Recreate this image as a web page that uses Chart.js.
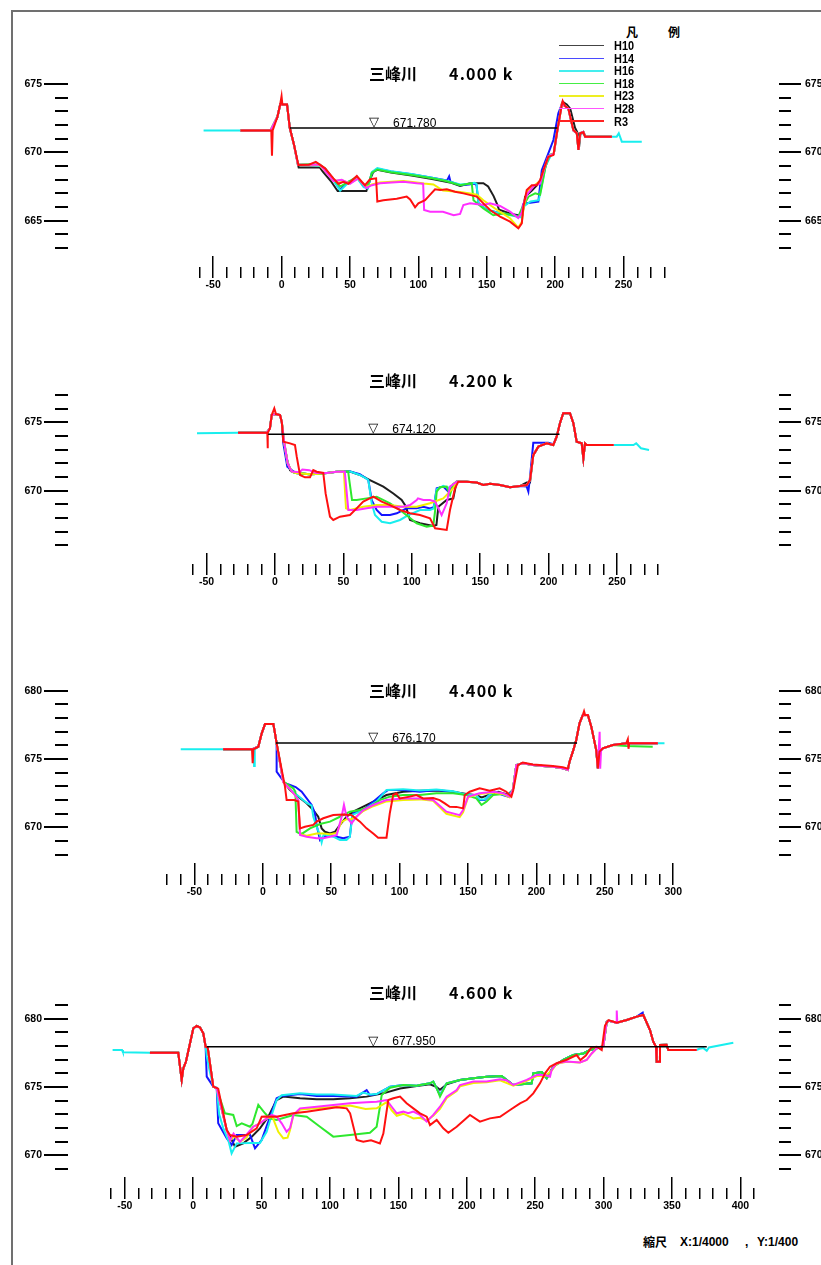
<!DOCTYPE html>
<html lang="ja">
<head>
<meta charset="utf-8">
<title>三峰川 横断図</title>
<script src="https://cdn.jsdelivr.net/npm/chart.js@4.4.1/dist/chart.umd.min.js"></script>
<style>
  html, body { margin:0; padding:0; background:#fff; }
  body { position:relative; width:821px; height:1265px; overflow:hidden; }
  #frame { position:absolute; left:11px; top:10px; width:830px; height:1280px; border-top:2px solid #707070; border-left:2px solid #707070; }
  canvas { position:absolute; left:0; }
  .title { position:absolute; left:369px; font:bold 16px "Noto Sans CJK JP", sans-serif; line-height:16px; white-space:pre; color:#000; }
  .title span { letter-spacing:1.2px; }
  .lgh { position:absolute; top:26px; font:bold 12px "Noto Sans CJK JP", sans-serif; line-height:12px; }
  .lgline { position:absolute; left:559px; width:45px; height:1.5px; }
  .lgtxt { position:absolute; left:614px; font:bold 13px "Liberation Sans", sans-serif; line-height:13px; color:#000; transform:scaleX(0.84); transform-origin:0 50%; }
  .note { position:absolute; top:1235px; font:bold 12px "Liberation Sans", sans-serif; line-height:14px; white-space:pre; }
  .note.cjk { font-family:"Noto Sans CJK JP", sans-serif; }
</style>
</head>
<body>
<div id="frame"></div>
<canvas id="c1" width="821" height="241" style="top:56px"></canvas>
<canvas id="c2" width="821" height="223" style="top:371px"></canvas>
<canvas id="c3" width="821" height="238" style="top:666px"></canvas>
<canvas id="c4" width="821" height="237" style="top:981px"></canvas>
<div class="title" style="top:65px">三峰川　　<span>4.000 k</span></div>
<div class="title" style="top:372px">三峰川　　<span>4.200 k</span></div>
<div class="title" style="top:682px">三峰川　　<span>4.400 k</span></div>
<div class="title" style="top:984px">三峰川　　<span>4.600 k</span></div>
<div class="lgh" style="left:626px">凡</div>
<div class="lgh" style="left:668px">例</div>
<div id="legend"></div>
<div class="note cjk" style="left:643px">縮尺</div>
<div class="note" style="left:680px">X:1/4000</div>
<div class="note" style="left:745px">,</div>
<div class="note" style="left:757px">Y:1/400</div>
<script>
const names = ['H10', 'H14', 'H16', 'H18', 'H23', 'H28', 'R3'];
const colors = ['#1e1e1e', '#1414ff', '#19eeee', '#2ee82e', '#f0f000', '#ff2eff', '#ff1010'];
const legendColors = ['#444444', '#4a4aff', '#44eeee', '#44ee44', '#eeee22', '#ff55ff', '#ff2222'];

// water level (m) and its extent / marker position along the section (m)
const levels = [671.78, 674.12, 676.17, 677.95];
const levelFrom = [6.2, -5, 9.6, 10];
const levelTo = [201.6, 208, 229.7, 375.4];
const levelMark = [67.6, 71.9, 80.7, 131.6];

// ---- 4.000 k ----
const L4000 = [[-30,671.6],[-8,671.6],[-3,672.6],[-1,673.5],[4,673.5],[6,671.8],[9,670.6],[12,669.1]];
const R4000 = [[199,669.9],[201.6,671.6],[204.8,673.5],[207.2,673.4],[209.6,673.2],[213.3,671.6],[215.8,671.4],[217,670.2],[218.2,671.4],[220.6,671.5],[221.9,671.15],[241.4,671.15]];
const h10_4000 = [...L4000, [12.5,668.9],[28,668.9],[30,668.6],[36,667.9],[41,667.17],[62,667.17],[64.7,668.0],[67,668.58],[70,668.72],[80,668.52],[95,668.3],[110,668.05],[123,667.8],[130.5,667.55],[137.8,667.74],[147.5,667.74],[151,667.5],[155,666.8],[157.3,666.27],[159,665.8],[168,665.5],[173,665.4],[176,665.4],[178,666.76],[183,667.2],[188,667.74],[190,667.9],[193,669.0],[196,669.8],[199,669.9],[203,672.8],[205.5,673.7],[208.5,673.5],[211,673.2],[214.5,671.8],[216.5,671.4],[217.5,670.4],[218.5,671.4],[221,671.4],[222,671.15],[241.4,671.15]];
const h14_4000 = [...L4000, [20,669.1],[28,669.05],[31.8,668.8],[38,668.0],[42.8,667.25],[47.7,667.8],[52,667.95],[55,668.2],[60,667.5],[63,667.4],[66,668.5],[70,668.8],[80,668.6],[95,668.4],[110,668.15],[121,667.95],[122.5,668.25],[123.5,667.85],[130.5,667.6],[137,667.65],[141,667.72],[142.5,667.6],[143.9,666.3],[150,665.8],[162,665.5],[170,665.4],[175,665.3],[176.5,666.2],[179.2,666.27],[187.7,666.4],[190.2,668.7],[195,669.93],[198.7,670.9],[202.3,672.86], ...R4000.slice(2)];
const h16_4000 = [[-57,671.6], ...L4000, [20,669.1],[28,669.0],[32,668.7],[38,667.95],[42.8,667.2],[48,667.7],[52,667.9],[55,668.15],[60,667.45],[63,667.35],[66,668.55],[70,668.85],[80,668.62],[95,668.42],[110,668.15],[120,667.95],[130.5,667.65],[137,667.7],[141,667.78],[142.5,667.7],[143.9,666.27],[150,665.78],[162,665.5],[170,665.35],[175,665.25],[176.5,666.0],[182,666.4],[188,666.5],[190,667.5],[193,669.0],[197,669.8], ...R4000, [245,671.15],[246.5,671.4],[248.7,670.78],[263.3,670.78]];
const h18_4000 = [...L4000, [20,669.15],[28,669.1],[32,668.8],[38,668.0],[43,667.5],[48,667.8],[55,668.2],[60,667.6],[63,667.5],[66,668.5],[70,668.75],[80,668.55],[95,668.35],[110,668.1],[120,667.9],[130.5,667.6],[139,667.74],[140.3,666.5],[147.5,665.9],[154.8,665.4],[162.2,665.55],[169.4,665.4],[173,665.3],[175.6,665.9],[180.5,666.76],[185.4,667.0],[189,666.9],[190.2,667.5],[193,669.0],[196,669.8], ...R4000];
const h23_4000 = [...L4000, [20,669.1],[28,669.05],[33,668.5],[38,667.9],[44,667.95],[50,667.75],[56,668.1],[62,667.45],[66,667.65],[72,667.8],[89,667.9],[98.8,667.8],[104,667.72],[111,667.65],[118,667.2],[130.5,667.1],[137.8,667.0],[142.7,666.9],[147.5,666.5],[157.3,665.8],[167,665.18],[173,664.5],[175.6,664.9],[177,666.0],[180,667.2],[185,667.6],[189,667.9],[192,668.8],[195,669.7], ...R4000];
const h28_4000 = [...L4000, [20,669.1],[28,669.1],[33,668.5],[38,667.9],[44,668.0],[50,667.7],[56,668.1],[62,667.4],[66,667.6],[72,667.74],[89,667.85],[98.8,667.74],[103.5,667.7],[104.2,665.78],[108.6,665.66],[118,665.66],[125.8,665.4],[130.5,665.5],[132.9,666.15],[137.8,666.27],[147.5,666.15],[152.4,666.27],[159.7,666.08],[167,665.66],[173,665.2],[175.6,665.6],[177,666.3],[180,667.0],[185,667.6],[189,667.7],[192,668.8],[195,669.7], ...R4000];
const r3_4000 = [[-30,671.6],[-7.5,671.6],[-7,669.75],[-6.5,671.6],[-3,672.6],[-1,673.5],[0,674.1],[0.6,673.5],[4,673.5],[6,671.8],[9,670.6],[12.3,669.08],[20,669.1],[25,669.3],[28,669.1],[31.8,668.83],[37.9,668.1],[41.5,667.7],[45.2,667.85],[48.8,667.7],[55,668.27],[58.6,667.85],[61,667.6],[64.7,668.03],[69.1,668.1],[70,666.4],[74.4,666.5],[84.2,666.6],[91.5,666.76],[94,666.56],[97.6,665.98],[100,666.27],[104.9,666.5],[107.3,666.76],[112.2,667.3],[115.9,667.25],[120.8,667.3],[126.8,667.12],[132.9,667.0],[142.7,666.76],[147.5,666.27],[152.4,665.78],[159.7,665.3],[167,664.93],[173.1,664.45],[175.6,664.8],[176.8,666.03],[179.2,667.25],[182.9,667.6],[186.5,667.6],[189,667.98],[191.4,668.7],[195,669.68],[198.7,669.8],[201.6,671.63],[204.8,673.46],[205.5,673.75],[207.2,673.39],[209.6,673.22],[213.3,671.63],[215.8,671.4],[217,670.17],[218.2,671.4],[220.6,671.47],[221.9,671.15],[241.4,671.15]];

// ---- 4.200 k ----
const L4200 = [[-27,674.24],[-6,674.24],[-3.7,674.56],[-2.4,675.53],[0.7,675.6],[3.7,675.53],[5,675.0]];
const P4200 = [[12.2,671.4],[15,671.3],[20,671.25],[25,671.2],[30,671.22],[38,671.3],[45,671.38],[50,671.4]];
const R4200 = [[134,670.66],[140.1,670.66],[147.4,670.6],[152.3,670.42],[157.2,670.5],[164.5,670.42],[171.8,670.25],[179,670.34],[184,670.42],[186.4,670.78],[188.8,672.6],[192.5,673.22],[198.6,673.46],[203.4,673.34],[205.9,673.95],[208.3,674.93],[210.7,675.66],[215.6,675.66],[218.1,674.93],[220.5,673.58],[224.2,673.46],[225.4,672.37],[226.6,673.46],[227.8,673.34],[247.5,673.34]];
const h10_4200 = [...L4200, [6.5,673.5],[9,672.2],[11,671.5], ...P4200, [54.8,671.4],[62.1,671.15],[69.4,670.78],[79.2,670.3],[86.5,669.8],[92.6,669.32],[95.8,668.83],[97.5,668.22],[98.7,667.86],[106,667.62],[115.7,667.42],[118,667.5],[119.4,668.83],[125.5,669.32],[130.3,669.44],[132.8,670.66], ...R4200.slice(0,8), [182,670.5],[184,670.6],[186.4,670.6], ...R4200.slice(10)];
const h14_4200 = [...L4200, [6.1,673.46],[9,671.75],[12.2,671.5], ...P4200.slice(1), [55,671.4],[62,671.2],[66,670.95],[68.2,670.78],[70.7,669.3],[74.3,668.59],[78,668.22],[84.1,668.22],[89,668.35],[96.3,668.71],[103.6,668.71],[108.4,668.83],[113.3,668.71],[116,668.8],[118.2,670.18],[123,670.3],[126.7,669.93],[130.3,670.3],[132.8,670.66], ...R4200.slice(0,8), [184,670.3],[185.2,669.93],[186.4,671],[188.8,673.5],[199.8,673.5],[203.4,673.4], ...R4200.slice(14)];
const h16_4200 = [[-57,674.2], ...L4200, [6.8,673.5],[9.3,672.0], ...P4200, [55,671.4],[62,671.15],[66.5,670.9],[68.2,670.78],[70.7,669.08],[73.1,668.22],[78,667.73],[84.1,667.62],[91.4,667.86],[97.5,668.22],[106,668.59],[113.3,668.59],[116,668.7],[118.2,670.1],[123,670.35],[126.7,670.2],[130.3,670.4],[132.8,670.66], ...R4200, [262,673.34],[264,673.46],[267.5,673.1],[273.4,672.98]];
const h18_4200 = [...L4200, [6.8,673.5],[9.3,672.0], ...P4200, [53.5,671.4],[54.3,670.78],[56.3,669.32],[59.7,669.32],[67,669.44],[74.3,669.56],[84.1,669.08],[91.4,668.59],[97.5,668.1],[103.6,667.62],[110.9,667.37],[115.7,667.45],[117,668.5],[118.2,669.93],[120.6,670.25],[125.5,670.3],[127.9,669.69],[130.3,670.5],[132.8,670.66], ...R4200];
const h23_4200 = [...L4200, [6.8,673.5],[9.3,672.0], ...P4200, [50.4,671.35],[51.9,668.71],[54.8,668.59],[64.5,668.83],[74.3,668.95],[84.1,668.95],[93.8,668.83],[103.6,668.83],[113.3,669.08],[123,669.44],[130.3,670.18],[132.8,670.66], ...R4200];
const h28_4200 = [...L4200, [6.8,673.5],[9.3,672.0],[12.2,671.4],[18,671.35],[20,671.55],[25,671.5],[30,671.3],[38,671.3],[45,671.38],[51,671.4],[53.6,668.59],[59.7,668.59],[67,668.71],[74.3,668.83],[84.1,668.83],[93.8,668.83],[98.7,668.95],[103.6,669.32],[104.5,669.44],[108.4,669.32],[113.3,669.32],[117,669.2],[121.8,668.22],[125.5,669.08],[127.9,670.3],[132.8,670.66], ...R4200];
const r3_4200 = [[-27,674.24],[-5.6,674.24],[-5.4,673.1],[-5.2,674.24],[-3.7,674.56],[-2.4,675.53],[-0.5,676.02],[0.7,675.6],[3.7,675.53],[5,675.0],[6.1,673.58],[11,673.46],[14.6,673.34],[15.9,672.49],[18.3,671.15],[21.9,670.98],[25.6,670.98],[28,671.5],[30.5,671.39],[35.3,671.3],[37,669.8],[40.2,668.1],[42.6,667.86],[47.5,668.1],[54.8,668.22],[59.7,668.71],[64.5,669.2],[71.9,669.56],[78,669.2],[84.1,668.95],[91.4,668.59],[98.7,668.35],[106,668.22],[113.3,667.98],[117,667.25],[125.5,667.13],[127.9,668.59],[131.6,670.18], ...R4200];

// ---- 4.400 k ----
const L4400 = [[-29,675.71],[-8.1,675.71],[-3.3,675.9],[-0.8,676.88],[1.6,677.56],[7.7,677.56],[8.9,676.88],[10.1,676.15]];
const R4400 = [[182.8,672.74],[185.3,674.56],[190.1,674.69],[197.4,674.56],[204.7,674.49],[212,674.44],[219.3,674.32],[223,674.2],[224.2,674.81],[226.6,675.54],[229.1,676.39],[231.5,677.61],[233.9,678.22],[237.6,678.22],[240.1,677.37],[243.7,675.66],[244.9,674.32],[246.1,675.54],[248.5,675.79],[255.8,676.03],[265.6,676.15],[288.7,676.15]];
const h10_4400 = [...L4400, [15,673.35],[19.9,672.74],[25.9,672.25],[32,671.76],[36.9,671.27],[40.5,670.78],[43,669.93],[45.4,669.68],[49.1,669.56],[52.7,669.68],[56.4,670.18],[61.2,670.78],[66.1,671.15],[78.2,671.76],[90.4,672.37],[102.6,672.61],[114.7,672.68],[126.9,672.7],[139.1,672.61],[148.8,672.45],[156.1,672.35],[160,672.2],[165.8,672.4],[172,672.6],[179.2,672.4], ...R4400];
const h14_4400 = [...L4400, [10.1,674.08],[16.2,673.23],[19.9,673.1],[24,672.95],[28.4,672.61],[35.7,671.64],[38.1,671.03],[39.3,670.18],[41.8,669.08],[44.2,669.32],[49.1,669.44],[53.9,669.32],[58.8,669.2],[63.6,669.32],[64.9,670.54],[66.1,671.03],[73.4,671.27],[80.7,671.88],[88,672.49],[91.6,672.74],[102.6,672.74],[114.7,672.61],[126.9,672.74],[139.1,672.61],[148.8,672.37],[156.1,672.37],[158.5,672.0],[162.2,672.0],[165.8,672.37],[169.5,672.61],[175.5,672.37],[179.2,672.25], ...R4400];
const h16_4400 = [[-60,675.71],[-6.9,675.71],[-6.4,674.5],[-5.9,675.71], ...L4400.slice(2), [15,673.35],[19.9,672.8],[25.9,672.3],[32,671.8],[35.7,671.6],[36.9,670.78],[39.3,670.05],[41.8,669.44],[43,668.9],[44.5,669.5],[46.6,669.44],[51.5,669.32],[56.4,669.08],[61.2,669.08],[63.6,669.32],[65.6,670.91],[73.4,671.27],[83.1,671.88],[90.4,672.74],[102.6,672.8],[114.7,672.7],[126.9,672.78],[139.1,672.65],[148.8,672.4],[156.1,672.35],[158.5,672.05],[162.2,672.05],[165.8,672.4],[169.5,672.6],[175.5,672.4],[179.2,672.3], ...R4400, [293.6,676.15]];
const h18_4400 = [...L4400, [15,673.35],[22.3,672.86],[23.8,672.6],[24.7,669.68],[27,669.56],[29,669.56],[34.5,669.93],[41.8,670.25],[49.1,670.42],[56.4,670.78],[63.6,671.15],[71,671.27],[78.2,671.51],[85.5,672.0],[92.8,672.25],[102.6,672.37],[114.7,672.37],[126.9,672.49],[139.1,672.49],[148.8,672.37],[156.1,672.12],[159.8,671.64],[163.4,671.88],[168.3,672.37],[175.5,672.45],[180.4,672.3], ...R4400.slice(0,20), [265.6,675.95],[285,675.9]];
const h23_4400 = [...L4400, [15,673.3],[19.9,672.8],[24,672.3],[25.9,672.0],[27.2,669.5],[32,669.4],[39.3,669.56],[44.2,669.56],[49.1,669.5],[54,669.6],[57.6,670.4],[61.2,670.6],[64.9,670.6],[68.5,670.8],[73.4,671.2],[80.7,671.55],[90.4,671.9],[102.6,672.0],[114.7,672.05],[124.5,671.95],[134.2,671.0],[143.9,670.75],[146.4,671.1],[150,672.2],[158.5,672.45],[168.3,672.55],[175.5,672.45],[180.4,672.2], ...R4400];
const h28_4400 = [...L4400, [15,673.3],[19.9,672.8],[24,672.3],[25.9,672.0],[27.2,669.44],[32,669.32],[39.3,669.2],[44.2,669.2],[49.1,669.32],[54,669.44],[57.6,670.78],[59.3,671.64],[61.2,670.78],[64.9,670.3],[68.5,670.78],[73.4,671.27],[80.7,671.64],[90.4,672.0],[102.6,672.12],[114.7,672.12],[124.5,672.0],[134.2,671.15],[143.9,670.9],[146.4,671.27],[150,672.25],[158.5,672.5],[168.3,672.61],[175.5,672.5],[180.4,672.25], ...R4400.slice(0,17), [245.5,675.6],[246.2,677.0],[246.6,674.3],[247.2,675.6], ...R4400.slice(18)];
const r3_4400 = [[-29,675.71],[-7.9,675.71],[-7.4,674.69],[-6.9,675.71], ...L4400.slice(2), [16.2,672.98],[17.4,672.0],[19.9,672.0],[23,672.0],[25.9,671.9],[27.2,669.93],[30.8,670.05],[36.9,670.18],[39.3,670.42],[44.2,670.67],[51.5,670.91],[58.8,670.95],[64.9,670.9],[71,670.42],[75.8,669.93],[80.7,669.56],[84.3,669.25],[90.4,669.25],[92.8,671.03],[95.3,672.37],[97.7,672.49],[100.1,672.12],[107.4,672.25],[112.3,672.37],[117.2,672.12],[124.5,672.15],[129.3,672.0],[133,671.76],[136.6,671.51],[141.5,671.5],[146.4,671.39],[147.6,672.37],[151.2,672.61],[158.5,672.86],[165.8,672.68],[173.1,672.86],[178,672.61],[181.7,672.25],[183,672.7],[186.5,674.56],[190,674.75],[197.4,674.6],[204.7,674.55],[212,674.5],[219.3,674.4],[223,674.3],[224.2,674.81],[226.6,675.54],[229.1,676.39],[231.5,677.61],[233.9,678.22],[234.8,678.5],[235.6,678.2],[237.6,678.22],[240.1,677.37],[243.7,675.66],[244.9,674.32],[246.1,675.54],[248.5,675.79],[255.8,676.03],[265.6,676.15],[266.8,676.45],[267.3,675.75],[267.8,676.15],[288.7,676.15]];

// ---- 4.600 k ----
const L4600 = [[-31.6,677.51],[-10.9,677.51],[-8.4,675.52],[-7.2,676.37],[-5.3,676.85],[-2.3,678.2],[0.1,679.3],[2.6,679.47],[5,679.35],[7.4,678.93],[9.1,677.95]];
const U4600 = [[134.1,674.49],[143.9,675.03],[153.6,675.15],[163.4,675.1],[165.8,675.15],[173.1,675.27],[175.5,675.4],[178,674.9],[180.4,674.42],[185.3,675.27],[195,675.52],[204.8,675.64],[214.5,675.76],[225.5,675.8],[229.2,675.52],[234,675.15],[247.4,675.27],[248.6,676.0],[254.8,676.1],[258.4,675.64],[263.2,676.49],[270.5,676.98],[277.9,677.34],[285.2,677.46],[290,677.71],[295,677.83]];
const R4600 = [[297,677.9],[299.8,678.0],[302.3,679.78],[304,679.85],[309.6,679.7],[316.9,679.9],[324.2,680.15],[329,680.27],[333.9,679.17],[336.3,678.32],[338.3,677.95],[338.8,676.85],[340.8,676.85],[341.2,678.08],[346,678.1],[347.3,677.71],[368,677.71]];
const h10_4600 = [...L4600, [10.6,677.9],[14.7,675.03],[17.2,674.9],[24.5,671.86],[30.6,670.64],[36.6,670.88],[42.8,671.37],[48.8,671.98],[54.9,672.83],[61,674.05],[65.9,674.3],[78.1,674.18],[90.3,674.1],[102.4,674.1],[114.6,674.18],[126.8,674.3],[134.1,674.45],[139,674.54],[151.2,674.9],[163.4,675.08],[173.1,675.2],[178,675.0],[180.4,674.8],[185.3,675.2], ...U4600.slice(10), ...R4600];
const h14_4600 = [...L4600, [9.9,675.76],[14.7,675.03],[17.2,674.95],[18.3,672.35],[24.5,671.25],[28.1,670.76],[31.8,671.49],[41.6,671.49],[45.2,670.52],[50.1,671.13],[54.9,672.47],[61,674.18],[64.7,674.35],[78.1,674.49],[90.3,674.35],[102.4,674.35],[119.5,674.3],[126.8,674.78],[129.3,674.4], ...U4600, ...R4600.slice(0,7), [328.6,680.45], ...R4600.slice(7)];
const h16_4600 = [[-58.9,677.71],[-52,677.71],[-51.3,677.54], ...L4600, [10,677.2],[12,676.2],[14.7,675.03],[17.2,674.9],[19,673.0],[22,672.0],[26,671.0],[28.1,670.15],[31.8,670.88],[41.6,670.9],[48.8,670.9],[53.7,671.73],[57.4,672.96],[61,674.05],[64.7,674.4],[78.1,674.55],[90.3,674.45],[102.4,674.45],[119.5,674.35],[124,674.6],[129.3,674.45], ...U4600, ...R4600, [370,677.8],[373,677.85],[375.4,677.66],[377,677.9],[394.8,678.24]];
const h18_4600 = [...L4600, [10.6,677.9],[14.7,675.03],[17.2,674.9],[23.2,673.08],[29.3,672.96],[31.8,672.15],[35.5,672.35],[41.5,672.1],[43.3,672.3],[47.6,673.69],[52.5,673.08],[56.1,672.71],[61,672.59],[73.2,672.96],[83,672.83],[92.7,672.1],[102.4,671.37],[114.6,671.49],[129.2,671.66],[134.1,672.1],[136.5,673.56],[137.8,674.42],[143.9,674.95], ...U4600.slice(2,8), [180.4,674.3], ...U4600.slice(9), ...R4600.slice(0,16), [358,677.71]];
const h23_4600 = [...L4600, [10.6,677.9],[14.7,675.03],[17.2,674.9],[24.5,671.86],[26.9,671.1],[30,671.4],[34.2,671.0],[39,671.3],[43.9,672.1],[48.8,672.35],[53.7,672.71],[58,672.8],[62.2,671.73],[65.9,671.25],[69,671.3],[70.8,671.86],[73.2,672.96],[78.1,673.35],[90.3,673.45],[102.4,673.55],[114.6,673.65],[126,673.4],[134.1,673.45],[141.4,673.9],[145.1,673.3],[148.8,672.9],[153.6,673.05],[161,672.7],[165.8,672.75],[170.7,672.55],[175.5,672.9],[180.4,673.4],[185.3,674.2],[192.6,674.7],[195,675.05],[204.8,675.3],[214.5,675.35],[224.3,675.5],[234,675.1],[243.8,675.45],[251.1,675.8],[257.2,675.8],[262,676.2],[265.7,676.7],[273,676.85],[282.7,676.8],[287.6,676.98],[291.3,677.46],[295,677.83], ...R4600];
const h28_4600 = [...L4600, [10.6,677.9],[14.7,675.03],[17.2,674.9],[24.5,671.86],[26.9,671.1],[29.5,671.6],[34.2,671.0],[38,671.4],[43.9,672.1],[48.8,672.35],[53.7,672.71],[57.4,672.96],[61,672.83],[64.7,672.35],[68.3,671.73],[70.8,672.0],[73.2,672.96],[78.1,673.44],[90.3,673.56],[102.4,673.69],[114.6,673.81],[126.8,673.88],[134.1,673.93],[141.4,674.05],[145.1,673.56],[148.8,673.08],[153.6,673.2],[157.2,673.08],[160.9,673.2],[165.8,672.96],[170.7,672.47],[175.5,672.96],[180.4,673.56],[185.3,674.3],[192.6,674.78],[195,675.15],[204.8,675.4],[214.5,675.4],[224.3,675.57],[229,675.5],[234,675.15],[243.8,675.52],[251.1,675.88],[257.2,675.88],[260.8,675.76],[262,676.25],[265.7,676.74],[273,676.86],[282.7,676.8],[287.6,676.98],[291.3,677.46],[295,677.83], ...R4600.slice(0,4), [309.2,679.7],[309.6,680.6],[310,679.7], ...R4600.slice(5)];
const r3_4600 = [...L4600, [10.6,677.9],[14.7,675.03],[18.3,674.88],[24.5,671.86],[26.9,671.49],[31.8,671.37],[39.1,671.49],[46.4,671.98],[50.1,672.83],[52.5,672.85],[61,672.83],[73.2,673.08],[83,673.2],[95.1,673.37],[104.9,673.52],[112.2,673.44],[114.7,673.08],[119.5,671.13],[124.3,671.0],[130,671.1],[136.5,670.88],[139,671.6],[142.6,674.05],[146.3,674.18],[151.2,674.3],[156,673.81],[160.9,673.44],[165.8,673.08],[170.7,672.83],[173.1,672.22],[178,672.59],[182.8,671.98],[186.5,671.66],[192.6,672.1],[202.3,672.96],[209.6,672.47],[216.9,672.71],[224.3,672.83],[231.6,673.32],[238.9,673.81],[243.8,674.05],[248.6,674.54],[253.5,675.27],[257.2,676.0],[260.8,676.49],[265.7,676.74],[273,677.0],[280.3,677.34],[283,676.98],[287,677.3],[291,677.9],[295,677.95],[298.6,677.71],[301,679.5],[303.5,679.9], ...R4600.slice(4)];

const sections = [
  [h10_4000, h14_4000, h16_4000, h18_4000, h23_4000, h28_4000, r3_4000],
  [h10_4200, h14_4200, h16_4200, h18_4200, h23_4200, h28_4200, r3_4200],
  [h10_4400, h14_4400, h16_4400, h18_4400, h23_4400, h28_4400, r3_4400],
  [h10_4600, h14_4600, h16_4600, h18_4600, h23_4600, h28_4600, r3_4600],
];

// tick ranges for each section
const xTickRange = [[-60, 280], [-60, 280], [-70, 300], [-60, 410]];
const yTickRange = [[663, 675], [666, 677], [668, 680], [669, 681]];

// axis limits, chosen so all four share 1:4000 / 1:400
const layout = [
  { id: 'c1', xmin: -156.1, ymin: 662.418, ymax: 676.024 },
  { id: 'c2', xmin: -151.3, ymin: 665.446, ymax: 677.727 },
  { id: 'c3', xmin: -142.4, ymin: 667.396, ymax: 680.783 },
  { id: 'c4', xmin: -91.5,  ymin: 668.420, ymax: 681.734 },
];
const X_SPAN = 519.7;

const numFont = { family: '"Liberation Sans Narrow", "Liberation Sans", sans-serif', size: 10.5, weight: 'bold' };

function range(a, b, step) {
  const out = [];
  for (let v = a; v <= b; v += step) out.push(v);
  return out;
}

// legend
const legend = document.getElementById('legend');
names.forEach((n, i) => {
  const cy = 45.7 + 12.55 * i;
  const line = document.createElement('div');
  line.className = 'lgline';
  line.style.top = (cy - 0.75) + 'px';
  line.style.background = legendColors[i];
  legend.appendChild(line);
  const t = document.createElement('div');
  t.className = 'lgtxt';
  t.style.top = (cy - 6.5) + 'px';
  t.textContent = n;
  legend.appendChild(t);
});

const levelLabel = {
  id: 'levelLabel',
  afterDatasetsDraw(chart, args, opts) {
    const { ctx, scales } = chart;
    const px = scales.x.getPixelForValue(opts.mark);
    const py = scales.y.getPixelForValue(opts.level);
    ctx.save();
    ctx.fillStyle = '#000';
    ctx.textBaseline = 'alphabetic';
    ctx.textAlign = 'center';
    ctx.font = '13px "DejaVu Sans", sans-serif';
    ctx.fillText('▽', px, py - 2);
    ctx.textAlign = 'left';
    ctx.font = '12px "Liberation Sans", sans-serif';
    ctx.fillText(opts.level.toFixed(3), px + 19, py - 1.5);
    ctx.restore();
  }
};

function yAxis(p, k, pos, weight, len, width, labels) {
  return {
    type: 'linear', position: pos, weight: weight,
    min: p.ymin, max: p.ymax,
    border: { display: false },
    grid: { drawOnChartArea: false, color: '#000', lineWidth: 2, tickLength: len },
    ticks: {
      display: labels, color: '#000', font: numFont, padding: pos === 'left' ? 2 : 4,
      callback: v => (v % 5 === 0 ? String(v) : '')
    },
    afterBuildTicks: s => {
      s.ticks = range(yTickRange[k][0], yTickRange[k][1], 1)
        .filter(v => !labels || v % 5 === 0)
        .map(v => ({ value: v }));
    },
    afterFit: s => { s.width = width; }
  };
}

function xAxis(p, k, weight, height, labels) {
  return {
    type: 'linear', position: 'bottom', weight: weight,
    min: p.xmin, max: p.xmin + X_SPAN,
    border: { display: false },
    grid: { drawOnChartArea: false, color: '#000', lineWidth: 1.5, tickLength: 11 },
    ticks: {
      display: labels, color: '#000', font: numFont, padding: 1,
      autoSkip: false, maxRotation: 0,
      callback: v => (v % 50 === 0 ? String(v) : '')
    },
    afterBuildTicks: s => {
      s.ticks = range(xTickRange[k][0], xTickRange[k][1], 10)
        .filter(v => labels || v % 50 === 0)
        .map(v => ({ value: v }));
    },
    afterFit: s => { s.height = height; }
  };
}

layout.forEach((p, k) => {
  const datasets = sections[k].map((pts, i) => ({
    label: names[i],
    data: pts,
    borderColor: colors[i],
    borderWidth: 2,
    pointRadius: 0,
    fill: false,
    tension: 0,
    order: 7 - i
  }));
  datasets.push({
    label: 'WL',
    data: [[levelFrom[k], levels[k]], [levelTo[k], levels[k]]],
    borderColor: '#000',
    borderWidth: 1.5,
    pointRadius: 0,
    fill: false,
    order: 0
  });

  new Chart(p.id, {
    type: 'line',
    data: { datasets: datasets },
    options: {
      responsive: false,
      animation: false,
      events: [],
      layout: { padding: { top: 14, left: 0, right: 0, bottom: 0 } },
      plugins: {
        legend: { display: false },
        tooltip: { enabled: false },
        levelLabel: { level: levels[k], mark: levelMark[k] }
      },
      scales: {
        x: xAxis(p, k, 0, 11, false),
        x2: xAxis(p, k, 1, 30, true),
        y: yAxis(p, k, 'left', 0, 13, 13, false),
        y2: yAxis(p, k, 'left', 1, 11, 55, true),
        y3: yAxis(p, k, 'right', 0, 12, 12, false),
        y4: yAxis(p, k, 'right', 1, 10, 30, true)
      }
    },
    plugins: [levelLabel]
  });
});
</script>
</body>
</html>
